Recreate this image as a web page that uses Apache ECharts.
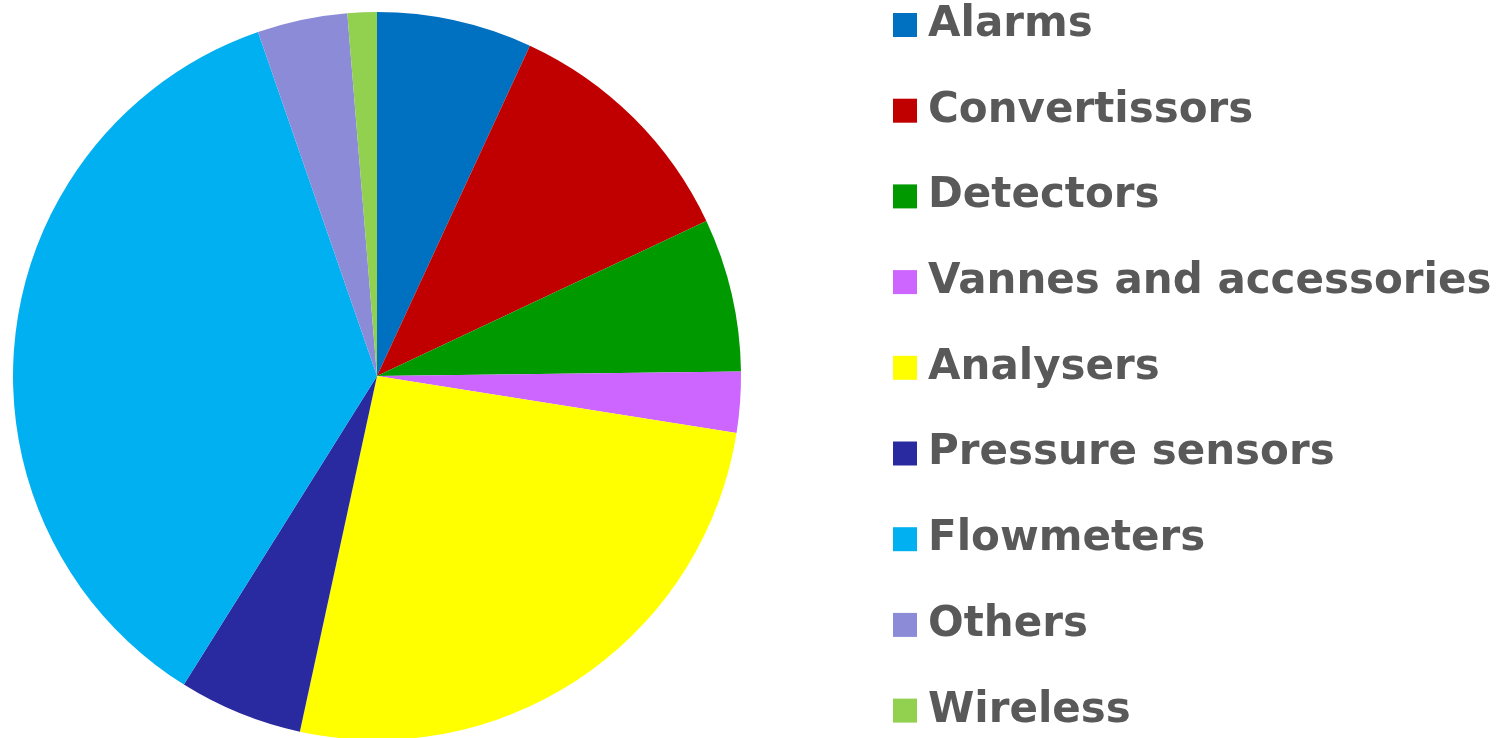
<!DOCTYPE html>
<html>
<head>
<meta charset="utf-8">
<script src="https://cdn.jsdelivr.net/npm/echarts@6/dist/echarts.min.js"></script>
<style>
  html, body { margin: 0; padding: 0; background: #fff; }
  #chart { width: 1505px; height: 738px; }
</style>
</head>
<body>
<div id="chart"></div>
<script>
// categories and shares (percent)
const categories = ['Alarms', 'Convertissors', 'Detectors', 'Vannes and accessories', 'Analysers',
  'Pressure sensors', 'Flowmeters', 'Others', 'Wireless'];
const shares = [6.9, 11.1, 6.8, 2.7, 25.9, 5.5, 35.8, 4.0, 1.3];
const colors = ['#0070C0', '#C00000', '#009900', '#CC66FF', '#FFFF00',
  '#2A2AA0', '#00B0F0', '#8B8BD8', '#92D050'];

const myChart = echarts.init(document.getElementById('chart'));
myChart.setOption({
  color: colors,
  animation: false,
  legend: {
    orient: 'vertical',
    left: 893,
    top: 3,
    padding: 0,
    itemWidth: 24,
    itemHeight: 24,
    itemGap: 41.7,
    icon: 'rect',
    textStyle: {
      fontFamily: 'DejaVu Sans',
      fontWeight: 'bold',
      fontSize: 42,
      color: '#595959',
      lineHeight: 44,
      padding: [0, 0, 0, 6]
    },
    data: categories
  },
  series: [{
    type: 'pie',
    center: [377, 376],
    radius: 364,
    startAngle: 90,
    clockwise: true,
    label: { show: false },
    labelLine: { show: false },
    itemStyle: { borderWidth: 0 },
    data: categories.map((name, i) => ({ name: name, value: shares[i] }))
  }]
});
window.onresize = function () {
  myChart.resize();
};
</script>
</body>
</html>
